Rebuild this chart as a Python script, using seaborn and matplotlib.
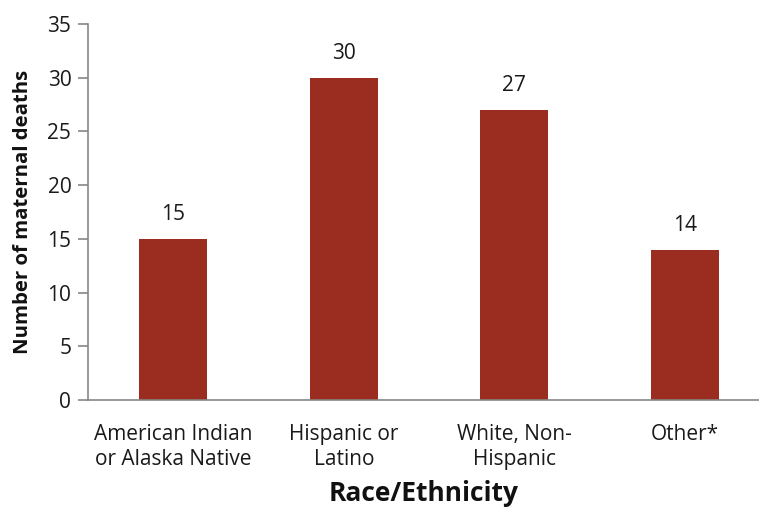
import numpy as np
import pandas as pd
import matplotlib.pyplot as plt
import seaborn as sns
from matplotlib.ticker import FixedLocator

groups = ["American Indian\nor Alaska Native", "Hispanic or\nLatino", "White, Non-\nHispanic", "Other*"]
deaths = [15, 30, 27, 14]

df = pd.DataFrame({"group": groups, "deaths": deaths})

sns.set_style("white")
plt.rcParams["font.family"] = ["Open Sans", "DejaVu Sans"]

fig = plt.figure(figsize=(7.59, 5.11), dpi=100)
ax = fig.add_axes([88 / 759, 111 / 511, 671 / 759, 376 / 511])

sns.barplot(data=df, x="group", y="deaths", color="#9B2D20", width=0.4,
            saturation=1, linewidth=0, ax=ax)

# value labels
for i, v in enumerate(deaths):
    ax.annotate(str(v), (i, v), xytext=(0, 10), textcoords="offset points",
                ha="center", va="bottom", fontsize=15, color="#1a1a1a")

ax.set_ylim(0, 35)
ax.set_yticks(range(0, 36, 5))
ax.set_xlim(-0.5, -0.5 + 671 / 170.5)

# ticks at category boundaries
ax.xaxis.set_minor_locator(FixedLocator(np.arange(-0.5, len(groups), 1.0)))
ax.tick_params(axis="x", which="major", length=0, pad=17, labelsize=15, colors="#1a1a1a")
ax.tick_params(axis="x", which="minor", length=6, width=1.2, color="#868686", direction="out")
ax.tick_params(axis="y", length=7, width=1.2, color="#868686", labelsize=15,
               labelcolor="#1a1a1a", direction="out", left=True, pad=5)
for lbl in ax.get_xticklabels():
    lbl.set_linespacing(1.3)

for side in ["top", "right"]:
    ax.spines[side].set_visible(False)
for side in ["left", "bottom"]:
    ax.spines[side].set_color("#868686")
    ax.spines[side].set_linewidth(1.2)

ax.set_xlabel("Race/Ethnicity", fontsize=19, fontweight="bold", labelpad=7, color="#111111")
ax.set_ylabel("Number of maternal deaths", fontsize=14.7, fontweight="bold", labelpad=10, color="#111111")

fig.savefig("out.png", dpi=100)
